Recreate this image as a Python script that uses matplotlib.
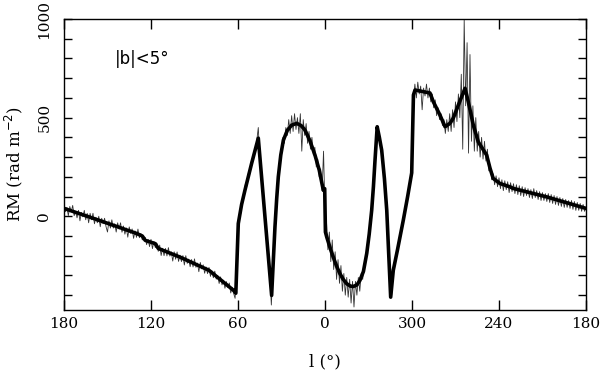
import numpy as np
import matplotlib
matplotlib.use('Agg')
import matplotlib.pyplot as plt
from matplotlib.ticker import MultipleLocator, FixedLocator, FuncFormatter

# longitudes unwrapped: 180 ... 0 ... -180 (i.e. 360 -> 180 on the right)
model_l = [180, 160, 140, 130, 126, 124, 117, 115, 100, 80, 63, 61.5, 59.8, 57.5, 55.2,
           50.6, 46, 36.8, 35.8, 34.5, 33.3, 32.2, 30.5, 28.7, 26, 23, 19.5, 16.5,
           13.8, 10.5, 6.9, 4, 1.15, 0.2, -0.3, -1.2, -3.5, -5.7, -8, -10.3, -12.6,
           -15, -17.5, -19.5, -22, -24.1, -26.5, -28.8, -30.5, -32.2, -33.4, -34.5,
           -36, -37.5, -39.1, -41, -42.6, -44, -45.3, -47.1, -50, -54, -57, -59.8,
           -61, -62.1, -72.4, -74.7, -79.3, -82.8, -86.2, -88.5, -92, -96.6, -98.8,
           -102.3, -105.7, -111.5, -113.8, -116, -120.7, -127.6, -129.9, -153, -180]
model_rm = [40, -10, -61, -87, -100, -122, -139, -163, -207, -274, -376, -390, -37, 60, 132,
            268, 396, -401, -250, -54, 90, 200, 310, 386, 435, 462, 471, 460,
            437, 385, 310, 235, 132, 140, -80, -105, -160, -207, -253, -291, -320,
            -342, -354, -356, -348, -325, -280, -188, -90, 30, 150, 284,
            454, 400, 335, 190, 30, -200, -410, -274, -170, -20, 100, 220,
            615, 640, 625, 581, 513, 454, 471, 498, 564, 649, 581,
            462, 377, 310, 244, 192, 166, 149, 141, 98, 40]

# observed RM, one value per degree from l=180 down through 0 (=360) to 180
obs_rm = [65, 23, 45, 3, 50, 23, 55, 3, 25, -8,
          30, -23, 20, -3, 30, -18, 15, -33, 15, -18,
          15, -38, -5, -33, 0, -53, -10, -38, -10, -53,
          -80, -23, -60, -18, -60, -38, -80, -33, -65, -33,
          -81, -49, -91, -59, -106, -54, -87, -64, -112, -74,
          -107, -65, -109, -87, -120, -106, -107, -144, -117, -154,
          -117, -164, -127, -159, -136, -178, -146, -199, -162, -200,
          -163, -201, -159, -202, -180, -227, -180, -218, -181, -229,
          -197, -230, -199, -247, -200, -239, -217, -256, -219, -257,
          -216, -259, -237, -281, -234, -267, -246, -289, -257, -291,
          -259, -305, -276, -312, -278, -319, -300, -341, -307, -348,
          -324, -365, -331, -362, -338, -389, -360, -391, -416, -300,
          -70, 10, 15, 85, 90, 160, 150, 215, 210, 275,
          275, 330, 325, 390, 450, 300, 230, 140, 40, -30,
          -130, -205, -300, -450, -290, -110, -10, 140, 190, 300,
          310, 400, 370, 450, 410, 490, 420, 510, 430, 520,
          440, 500, 420, 520, 330, 490, 410, 470, 370, 430,
          340, 400, 310, 350, 250, 290, 200, 240, 130, 330,
          20, -20, -170, -80, -230, -120, -270, -180, -320, -220,
          -340, -250, -380, -290, -400, -310, -410, -320, -440, -330,
          -460, -330, -400, -310, -380, -290, -320, -250, -230, -170,
          -125, -55, 20, 110, 225, 340, 455, 420, 380, 340,
          265, 190, 90, -35, -200, -360, -400, -280, -240, -205,
          -170, -130, -95, -55, -20, 20, 60, 100, 145, 185,
          290, 600, 670, 600, 680, 620, 660, 540, 650, 610,
          670, 600, 650, 580, 620, 550, 590, 510, 550, 490,
          520, 460, 490, 420, 490, 430, 520, 430, 540, 450,
          580, 480, 620, 500, 720, 340, 1000, 560, 880, 320,
          820, 380, 560, 330, 500, 330, 430, 300, 400, 290,
          380, 280, 340, 230, 260, 185, 215, 160, 205, 150,
          195, 140, 185, 130, 180, 135, 175, 120, 170, 125,
          165, 115, 160, 110, 155, 105, 150, 100, 145, 105,
          140, 95, 135, 90, 140, 95, 130, 85, 125, 80,
          120, 80, 115, 75, 115, 70, 110, 65, 105, 60,
          100, 55, 95, 50, 90, 45, 85, 45, 80, 40,
          80, 35, 75, 30, 70, 30, 65, 25, 60, 25,
          45]
obs_l = np.arange(180, -181, -1)

xticks = [180, 120, 60, 0, -60, -120, -180]

plt.rcParams['font.family'] = 'DejaVu Serif'
fig = plt.figure(figsize=(6.02, 3.73), dpi=100)
ax = fig.add_axes([0.1063, 0.169, 0.8671, 0.780])

ax.plot(obs_l, obs_rm, color='#333333', lw=0.6)
ax.plot(model_l, model_rm, color='black', lw=2.6, solid_joinstyle='round')

ax.set_xlim(180, -180)
ax.set_ylim(-475, 1000)

ax.xaxis.set_major_locator(FixedLocator(xticks))
ax.xaxis.set_major_formatter(FuncFormatter(lambda v, p: '%d' % (round(v) % 360 if round(v) != -180 else 180)))
ax.yaxis.set_major_locator(MultipleLocator(500))
ax.yaxis.set_minor_locator(MultipleLocator(100))

ax.tick_params(axis='x', which='major', direction='in', length=7, width=1,
               top=True, labelsize=11, pad=5)
ax.tick_params(axis='y', which='both', direction='in', length=6, width=1,
               right=True, labelsize=11, pad=9)
for lab in ax.get_yticklabels():
    lab.set_rotation(90)
    lab.set_va('center')

for s in ax.spines.values():
    s.set_linewidth(1)

ax.set_xlabel('l (°)', fontsize=12, labelpad=16)
ax.set_ylabel('RM (rad m$^{-2}$)', fontsize=12, labelpad=9)

ax.text(0.098, 0.862, '|b|<5°', transform=ax.transAxes, fontsize=12,
        family='DejaVu Sans', va='center', ha='left')

fig.savefig('out.png', dpi=100)
